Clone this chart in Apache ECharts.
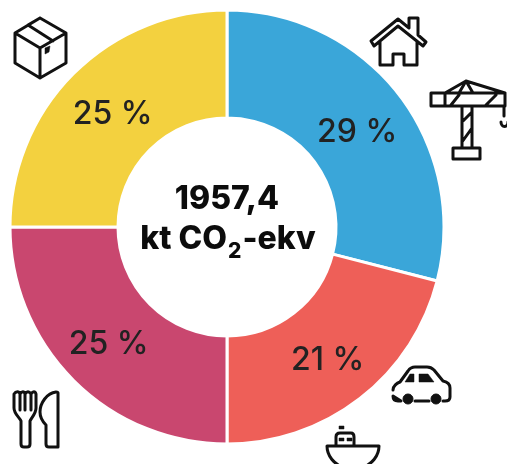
<!DOCTYPE html>
<html>
<head>
<meta charset="utf-8">
<style>html,body{margin:0;background:#fff}#main{width:507px;height:464px}</style>
<script src="https://cdn.jsdelivr.net/npm/echarts@6/dist/echarts.min.js"></script>
</head>
<body>
<div id="main"></div>
<script>
const categories = ['Bostad och bygg', 'Transport', 'Mat', 'Konsumtion'];
const shares = [29, 21, 25, 25];
const totalLabel = '1957,4';
const unitLabel = 'kt CO{sub|2}-ekv';

const colors = ['#3AA6D9', '#EE5F58', '#C9476F', '#F3D13F'];
const labelOffsets = [[-1, 7], [-1, 2], [-1, 0], [3, 5]];
const font = 'Inter, "Open Sans", sans-serif';

// ikonerna runt ringen
const iconLines = [
    // hus
    'M371 41L398 19L409 28L409 18L418 18L418 35L426 42L423 46L398 26L374 46Z M380 42L380 65L393 65L393 54L404 54L404 65L417 65L417 42',
    // kran
    'M431 93H505V106H431Z M445 93V106 M466 81L445 93 M466 81L505 93 M466 81L459 93 M466 81L473 93 M462 106V148 M472 106V148 M453 148H480V159H453Z M504 106V116 M501 122C501 128 508 128 508 122 M451 105L459 95 M486 105L496 95 M462 122L472 112 M462 142L472 128',
    // bil
    'M393 390C393 386 397 383 400 382L408 371C410 368 412 367 415 367H427C430 367 432 368 434 370L443 381C448 382 450 384 450 388V397C450 400 448 401 445 401H443 M429 401H415 M401 401H398C394 401 393 399 393 396Z',
    // bat
    'M327 446H379C379 456 372 464 362 468H344C334 464 327 456 327 446Z M336 446V437C336 434 338 433 340 433H351C353 433 354 434 354 437V446',
    // gaffel
    'M14 394V408C14 414 20 418 21 421V444C21 446 22 447 24 447H27C29 447 30 446 30 444V421C31 418 36 414 36 408V394 M14 394C16 391 19 391 20 394V410 M20 394C22 391 24 391 25 394V410 M25 394C27 391 29 391 31 394V410 M31 394C33 391 35 391 36 394',
    // kniv
    'M58 393V447H49C47 447 46 446 46 444V425C42 421 40 417 40 412C40 403 47 393 56 392C57 392 58 392 58 393Z',
    // lada
    'M40 18L66 33V63L40 78L15 63V33Z M15 33L40 48L66 33 M40 48V78 M28 25L53 41 M40 18L28 25'
];
const iconFills = [
    'M405 382L410 374H414V382Z M419 382V374H428L434 382Z',
    'M339 426H344V429H339Z M339 438H344V441H339Z M347 438H352V441H347Z',
    'M45 48L50 46L49 52L45 54Z'
];
const wheels = [[408, 399], [436, 399]];

function iconShape(name, pathData) {
    echarts.graphic.registerShape(name, echarts.graphic.extendPath(pathData));
    return name;
}

const chart = echarts.init(document.getElementById('main'));
chart.setOption({
    animation: false,
    backgroundColor: '#fff',
    color: colors,
    series: [{
        type: 'pie',
        center: [227, 227],
        radius: [109, 217],
        silent: true,
        itemStyle: { borderColor: '#fff', borderWidth: 3 },
        label: {
            position: 'inside',
            formatter: '{c} %',
            fontFamily: font,
            fontSize: 32,
            fontWeight: 500,
            color: '#222'
        },
        labelLine: { show: false },
        data: categories.map((name, i) => ({
            name,
            value: shares[i],
            label: { offset: labelOffsets[i] }
        }))
    }],
    graphic: [
        {
            type: 'text', x: 227, y: 199, silent: true,
            style: {
                text: totalLabel, fill: '#0c0c0c', font: '800 32px ' + font,
                align: 'center', verticalAlign: 'middle'
            }
        },
        {
            type: 'text', x: 228, y: 239, silent: true,
            style: {
                text: unitLabel, fill: '#0c0c0c', font: '800 32px ' + font,
                align: 'center', verticalAlign: 'middle',
                rich: { sub: { font: '800 21px ' + font, fill: '#0c0c0c', verticalAlign: 'bottom', padding: [26, 1, 0, 1] } }
            }
        }
    ].concat(iconLines.map((pathData, i) => ({
        type: iconShape('iconLine' + i, pathData), silent: true,
        style: { fill: 'none', stroke: '#111', lineWidth: 3, lineJoin: 'round', lineCap: 'round' }
    }))).concat(iconFills.map((pathData, i) => ({
        type: iconShape('iconFill' + i, pathData), silent: true,
        style: { fill: '#111', stroke: '#111', lineWidth: 0.5 }
    }))).concat(wheels.map(w => ({
        type: 'circle', silent: true, shape: { cx: w[0], cy: w[1], r: 5 },
        style: { fill: '#111', stroke: '#111', lineWidth: 1 }
    })))
});
</script>
</body>
</html>
